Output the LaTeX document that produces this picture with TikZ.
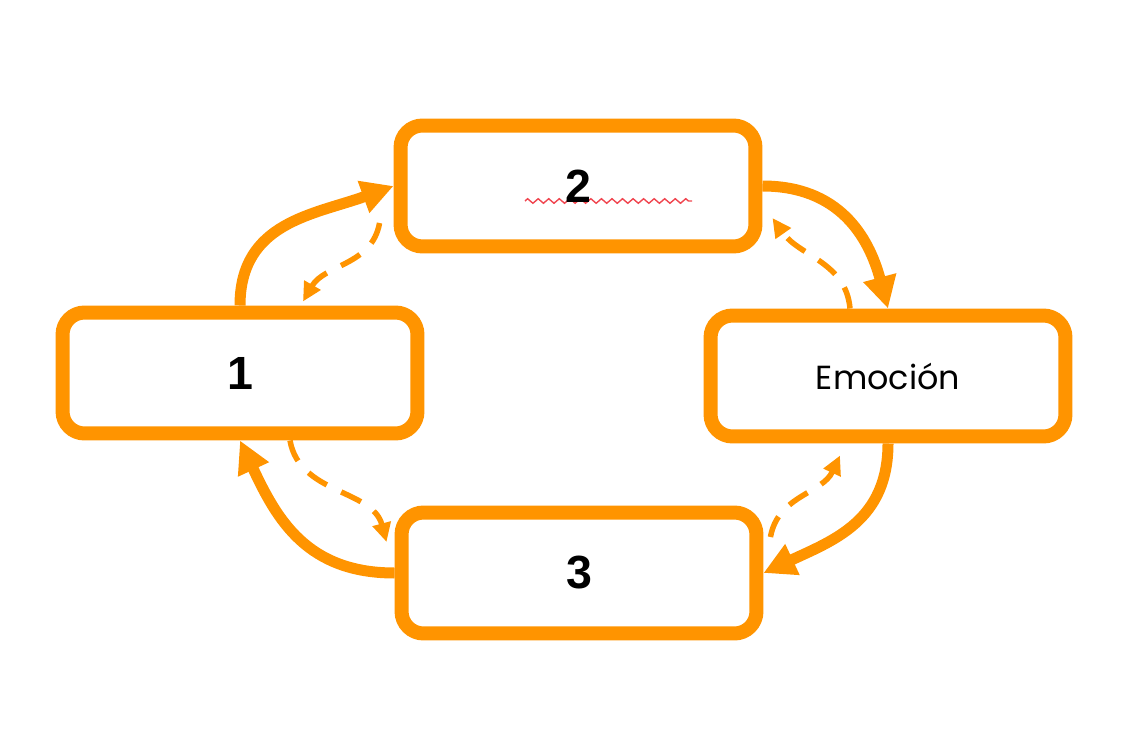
\documentclass[tikz,border=0pt]{standalone}
\usepackage{fontspec}
\setmainfont{Liberation Sans}
\newfontfamily\emofont{Poppins}
\usetikzlibrary{arrows.meta,calc,decorations.pathmorphing,backgrounds}
\definecolor{naranja}{RGB}{255,148,0}
\definecolor{rojo}{RGB}{240,70,80}
\tikzset{
  caja/.style={draw=naranja,line width=0.28cm,rounded corners=0.44cm,
    minimum width=7.1cm,minimum height=2.42cm},
  num/.style={font=\fontsize{26.5}{30}\selectfont\bfseries},
  flecha/.style={draw=naranja,line width=0.22cm,
    -{Triangle[length=0.64cm,width=0.64cm]}},
  punteada/.style={draw=naranja,line width=0.11cm,dash pattern=on 0.44cm off 0.32cm,
    -{Triangle[length=0.38cm,width=0.36cm]}}
}
\begin{document}
\begin{tikzpicture}[x=0.02cm,y=0.02cm]
    \useasboundingbox (0,0) rectangle (1148,748);

    % boxes
    \node[caja,num] (b1) at (240,375) {1};
    \node[caja,num] (b2) at (578,562) {2};
    \node[caja,font=\emofont\fontsize{19}{23}\selectfont] (be) at (888,372) {Emoción};
    \node[caja,num] (b3) at (579,175) {3};

    % spell check mark
    \begin{pgfonlayer}{background}
    \draw[rojo,line width=0.8pt,decorate,decoration={zigzag,amplitude=1.3,segment length=6}]
      ($(b2.center)+(-53,-15)$) -- ($(b2.center)+(114,-15)$);
    \end{pgfonlayer}

    % main cycle
    \draw[flecha] (b1.north) to[out=90,in=200,looseness=1.1] (b2.west);
    \draw[flecha] (b2.east) to[out=0,in=105,looseness=1.1] (be.north);
    \draw[flecha] (be.south) to[out=-90,in=25,looseness=1.1] (b3.east);
    \draw[flecha] (b3.west) to[out=180,in=-65,looseness=1.1] (b1.south);

    % back arrows
    \coordinate (d1a) at ($(b2.west)+(-14,-37)$);
    \coordinate (d1b) at ($(b1.north)+(63,4)$);
    \coordinate (d2a) at ($(be.north)+(-38,0)$);
    \coordinate (d2b) at ($(b2.east)+(10,-32)$);
    \coordinate (d3a) at ($(b1.south)+(50,0)$);
    \coordinate (d3b) at ($(b3.west)+(-8,31)$);
    \coordinate (d4a) at ($(b3.east)+(7,36)$);
    \coordinate (d4b) at ($(be.south)+(-48,-12)$);
    \draw[punteada] (d1a) to[out=-100,in=60] (d1b);
    \draw[punteada] (d2a) to[out=95,in=-55] (d2b);
    \draw[punteada] (d3a) to[out=-80,in=105] (d3b);
    \draw[punteada] (d4a) to[out=80,in=245] (d4b);
\end{tikzpicture}
\end{document}
